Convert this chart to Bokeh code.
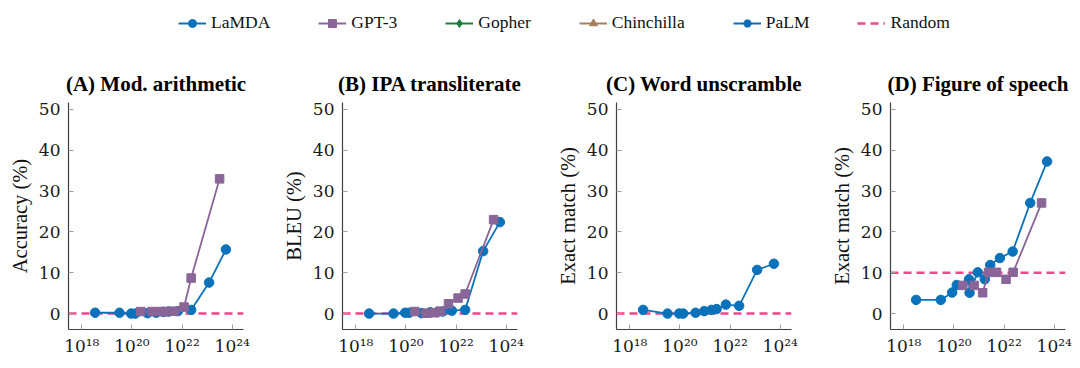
from bokeh.plotting import figure
from bokeh.layouts import column, row
from bokeh.models import Range1d, FixedTicker, CustomJSTickFormatter, Span, Legend, LegendItem
from bokeh.embed import file_html
from bokeh.resources import INLINE

# ---------------- data ----------------
titles = ["(A) Mod. arithmetic", "(B) IPA transliterate", "(C) Word unscramble", "(D) Figure of speech"]
ylabels = ["Accuracy (%)", "BLEU (%)", "Exact match (%)", "Exact match (%)"]

lamda_flops = [3.4e18, 3.2e19, 9.3e19, 1.35e20, 4.2e20, 9.3e20, 1.8e21, 2.9e21, 6.8e21, 2.3e22, 1.2e23, 5.6e23]
lamda_flops_d = [3.1e18, 3.0e19, 8.5e19, 1.3e20, 4.0e20, 4.2e20, 8.9e20, 1.7e21, 2.8e21, 6.8e21, 2.2e22, 1.1e23, 5.2e23]
gpt3_flops = [2.25e20, 6.4e20, 1.4e21, 2.4e21, 5.0e21, 1.2e22, 2.3e22, 3.14e23]

lamda_a = [0.2, 0.2, 0.0, 0.0, 0.1, 0.2, 0.4, 0.5, 0.6, 0.9, 7.6, 15.7]
gpt3_a = [0.5, 0.5, 0.5, 0.5, 0.6, 1.6, 8.7, 33.0]
lamda_b = [0.0, 0.0, 0.2, 0.2, 0.1, 0.3, 0.4, 0.5, 0.7, 0.9, 15.3, 22.4]
gpt3_b = [0.5, 0.1, 0.2, 0.6, 2.4, 3.8, 4.8, 23.0]
lamda_c = [0.9, 0.0, 0.0, 0.0, 0.2, 0.6, 0.9, 1.1, 2.2, 1.9, 10.7, 12.2]
lamda_d = [3.35, 3.35, 5.15, 7.0, 8.4, 5.1, 10.1, 8.4, 11.9, 13.6, 15.2, 27.1, 37.25]
gpt3_d = [6.9, 6.9, 5.1, 10.1, 10.1, 8.4, 10.1, 27.1]

random_level = [0, 0, 0, 10]

x_ticks = [1e18, 1e20, 1e22, 1e24]
x_tick_labels = ["10¹⁸", "10²⁰", "10²²", "10²⁴"]
y_ticks = [0, 10, 20, 30, 40, 50]

legend_names = ["LaMDA", "GPT-3", "Gopher", "Chinchilla", "PaLM"]
legend_markers = ["circle", "square", "diamond", "triangle", "hex"]

# ---------------- style ----------------
BLUE = "#0a72bb"
PURPLE = "#8a6598"
GREEN = "#1b7a3e"
BROWN = "#a67f60"
PALM = "#0e6cb3"
PINK = "#f1478c"
legend_colors = [BLUE, PURPLE, GREEN, BROWN, PALM]
FONT = "Liberation Serif"
TICK_FONT = "DejaVu Serif"

fmt_code = """
const lt = Math.log10(tick);
for (let i = 0; i < tick_vals.length; i++) {
  if (Math.abs(Math.log10(tick_vals[i]) - lt) < 1e-6) return tick_text[i];
}
return "";
"""

lamda_xs = [lamda_flops, lamda_flops, lamda_flops, lamda_flops_d]
lamda_ys = [lamda_a, lamda_b, lamda_c, lamda_d]
gpt_ys = [gpt3_a, gpt3_b, None, gpt3_d]
left_borders = [68, 62, 62, 62]
right_borders = [36, 36, 36, 12]

panels = []
for i in range(4):
    p = figure(x_axis_type="log",
               x_range=Range1d(10 ** 17.47, 10 ** 24.45),
               y_range=Range1d(-3.9, 51.7),
               frame_width=175, frame_height=227,
               min_border_left=left_borders[i], min_border_right=right_borders[i],
               min_border_top=54, min_border_bottom=31,
               toolbar_location=None, output_backend="svg",
               title=titles[i])
    p.title.text_font = FONT
    p.title.text_font_size = "21px"
    p.title.text_font_style = "bold"
    p.title.align = "center"
    p.title.text_color = "black"
    p.title.standoff = 13

    p.outline_line_color = None
    p.xgrid.visible = False
    p.ygrid.visible = False
    p.background_fill_color = "white"

    p.xaxis.ticker = FixedTicker(ticks=x_ticks)
    p.xaxis.formatter = CustomJSTickFormatter(args=dict(tick_vals=x_ticks, tick_text=x_tick_labels), code=fmt_code)
    p.yaxis.ticker = FixedTicker(ticks=y_ticks)
    p.yaxis.axis_label = ylabels[i]

    for ax in (p.xaxis[0], p.yaxis[0]):
        ax.axis_line_color = "#404040"
        ax.axis_line_width = 1.2
        ax.major_tick_line_color = "#a0a0a0"
        ax.major_tick_in = 5
        ax.major_tick_out = 0
        ax.minor_tick_line_color = None
        ax.major_label_text_font = TICK_FONT
        ax.major_label_text_font_size = "17px"
        ax.major_label_text_color = "#1a1a1a"
        ax.axis_label_text_font = FONT
        ax.axis_label_text_font_size = "20.5px"
        ax.axis_label_text_font_style = "normal"
        ax.axis_label_text_color = "#111111"
    p.yaxis.major_label_standoff = 8
    p.yaxis.axis_label_standoff = 5
    p.xaxis.major_label_standoff = 6

    span = Span(location=random_level[i], dimension="width", line_color=PINK,
                line_dash="8 5", line_width=2.5, level="underlay")
    p.add_layout(span)

    p.line(lamda_xs[i], lamda_ys[i], line_color=BLUE, line_width=1.8)
    p.scatter(lamda_xs[i], lamda_ys[i], marker="circle", size=9.5, fill_color=BLUE, line_color=BLUE)
    if gpt_ys[i] is not None:
        p.line(gpt3_flops, gpt_ys[i], line_color=PURPLE, line_width=1.8)
        p.scatter(gpt3_flops, gpt_ys[i], marker="square", size=8.5, fill_color=PURPLE, line_color=PURPLE)
    panels.append(p)

# ---------------- legend strip ----------------
leg = figure(width=1074, height=48, toolbar_location=None, output_backend="svg",
             x_range=Range1d(0, 1), y_range=Range1d(0, 1), min_border=0,
             x_axis_location=None, y_axis_location=None)
leg.outline_line_color = None
leg.xgrid.visible = False
leg.ygrid.visible = False

nan = float("nan")
items = []
for name, color, marker in zip(legend_names, legend_colors, legend_markers):
    r1 = leg.line([nan], [nan], line_color=color, line_width=2)
    r2 = leg.scatter([nan], [nan], marker=marker, fill_color=color, line_color=color)
    items.append(LegendItem(label=name, renderers=[r1, r2]))
rr = leg.line([nan], [nan], line_color=PINK, line_width=2.5, line_dash="8 5")
items.append(LegendItem(label="Random", renderers=[rr]))

legend = Legend(items=items, orientation="horizontal", location=(178, 15),
                glyph_width=28, glyph_height=20, label_standoff=5, spacing=48,
                padding=0, margin=0, border_line_color=None, background_fill_alpha=0,
                label_text_font=FONT, label_text_font_size="17.5px", label_text_color="#111111")
leg.add_layout(legend)

layout = column(leg, row(*panels))

open("out.html", "w").write(file_html(layout, INLINE))
